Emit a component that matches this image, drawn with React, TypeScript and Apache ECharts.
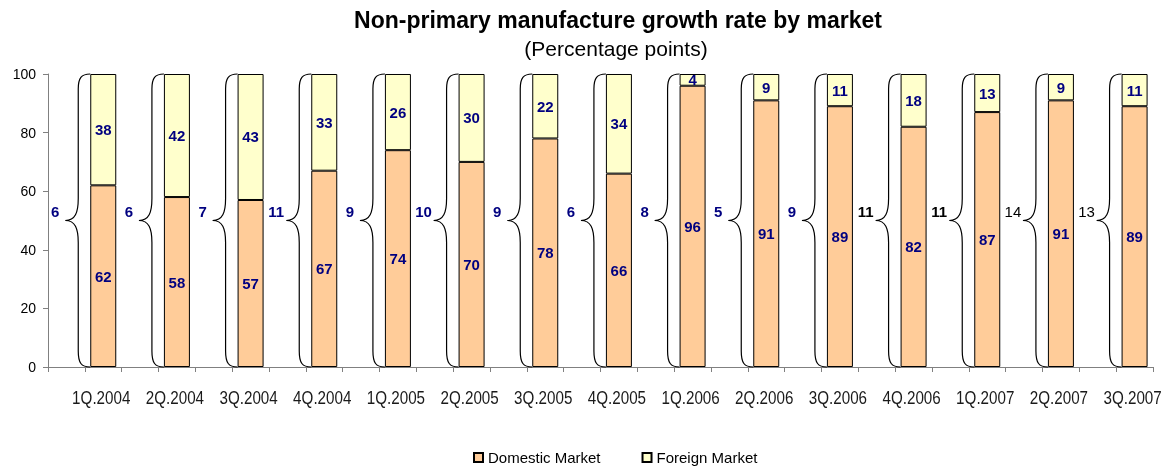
import React, { useEffect, useRef } from "react";
import * as echarts from "echarts";

const categories = [
  "1Q.2004", "2Q.2004", "3Q.2004", "4Q.2004",
  "1Q.2005", "2Q.2005", "3Q.2005", "4Q.2005",
  "1Q.2006", "2Q.2006", "3Q.2006", "4Q.2006",
  "1Q.2007", "2Q.2007", "3Q.2007",
];
const domestic = [62, 58, 57, 67, 74, 70, 78, 66, 96, 91, 89, 82, 87, 91, 89];
const foreign = [38, 42, 43, 33, 26, 30, 22, 34, 4, 9, 11, 18, 13, 9, 11];
const growth = [6, 6, 7, 11, 9, 10, 9, 6, 8, 5, 9, 11, 11, 14, 13];
const yMin = 0;
const yMax = 100;
const yInterval = 20;

// label look of each growth value (n = navy bold, b = black bold, p = black plain)
const growthLook = ["n", "n", "n", "n", "n", "n", "n", "n", "n", "n", "n", "b", "b", "p", "p"];

const FONT = "'Liberation Sans', Arial, Helvetica, sans-serif";

export default function App() {
  const ref = useRef<HTMLDivElement>(null);

  useEffect(() => {
    if (!ref.current) return;
    const chart = echarts.init(ref.current, undefined, { renderer: "svg" });

    const slots: string[] = [];
    categories.forEach((c, i) => {
      slots.push("_gap" + i);
      slots.push(c);
    });
    const domSlots: any[] = [];
    const forSlots: any[] = [];
    domestic.forEach((v, i) => {
      domSlots.push("-", v);
      forSlots.push("-", foreign[i]);
    });
    const braceData = growth.map((g, i) => [2 * i + 1, yMax, g, i]);
    const labelData = categories.map((c, i) => [2 * i + 1, yMin, i]);

    const barLabel = {
      show: true,
      position: "inside" as const,
      color: "#000080",
      fontWeight: "bold" as const,
      fontSize: 15,
      fontFamily: FONT,
    };

    chart.setOption({
      animation: false,
      title: [
        {
          text: "Non-primary manufacture growth rate by market",
          left: 618,
          top: 8,
          padding: 0,
          textAlign: "center",
          textStyle: { fontSize: 23, fontWeight: "bold", color: "#000", fontFamily: FONT },
        },
        {
          text: "(Percentage points)",
          left: 616,
          top: 38,
          padding: 0,
          textAlign: "center",
          textStyle: { fontSize: 21, fontWeight: "normal", color: "#000", fontFamily: FONT },
        },
      ],
      legend: {
        data: ["Domestic Market", "Foreign Market"],
        left: 473,
        top: 450,
        padding: 0,
        itemWidth: 9,
        itemHeight: 9,
        itemGap: 41,
        icon: "rect",
        textStyle: { fontSize: 15, color: "#000", fontFamily: FONT },
      },
      grid: { left: 48, right: 16, top: 74, bottom: 99, containLabel: false },
      xAxis: {
        type: "category",
        data: slots,
        axisLine: { lineStyle: { color: "#808080", width: 1 } },
        axisTick: { show: true, interval: 0, length: 5, lineStyle: { color: "#808080" } },
        axisLabel: { show: false },
        splitLine: { show: false },
      },
      yAxis: {
        type: "value",
        min: yMin,
        max: yMax,
        interval: yInterval,
        axisLine: { show: true, lineStyle: { color: "#808080", width: 1 } },
        axisTick: { show: true, length: 5, lineStyle: { color: "#808080" } },
        axisLabel: { margin: 12, fontSize: 14, color: "#000", fontFamily: FONT },
        splitLine: { show: false },
      },
      series: [
        {
          name: "Domestic Market",
          type: "bar",
          stack: "total",
          data: domSlots,
          barWidth: 26,
          itemStyle: { color: "#FFCC99", borderColor: "#000", borderWidth: 1 },
          label: barLabel,
        },
        {
          name: "Foreign Market",
          type: "bar",
          stack: "total",
          data: forSlots,
          barWidth: 26,
          itemStyle: { color: "#FFFFCC", borderColor: "#000", borderWidth: 1 },
          label: barLabel,
        },
        {
          name: "braces",
          type: "custom",
          data: braceData,
          encode: { x: 0, y: 1 },
          z: 5,
          renderItem: (params: any, api: any) => {
            const idx = api.value(0);
            const g = api.value(2);
            const k = growthLook[api.value(3)];
            const top = api.coord([idx, yMax]);
            const bot = api.coord([idx, yMin]);
            const mid = api.coord([idx, (yMin + yMax) / 2]);
            const lab = api.coord([idx, 53]);
            const xR = top[0] - 13;
            const xV = xR - 12;
            const xT = xR - 25;
            const yT = top[1];
            const yB = bot[1];
            const yM = mid[1];
            const d =
              `M${xR} ${yT} C${xV + 3} ${yT} ${xV} ${yT + 4} ${xV} ${yT + 15} ` +
              `L${xV} ${yM - 22} C${xV} ${yM - 8} ${xV - 3} ${yM} ${xT} ${yM} ` +
              `C${xV - 3} ${yM} ${xV} ${yM + 8} ${xV} ${yM + 22} ` +
              `L${xV} ${yB - 16} C${xV} ${yB - 4} ${xV + 3} ${yB} ${xR} ${yB}`;
            return {
              type: "group",
              children: [
                {
                  type: "path",
                  shape: { pathData: d },
                  style: { fill: "none", stroke: "#000", lineWidth: 1.2 },
                },
                {
                  type: "text",
                  style: {
                    text: String(g),
                    x: xR - 35,
                    y: lab[1],
                    align: "center",
                    verticalAlign: "middle",
                    fill: k === "n" ? "#000080" : "#000",
                    fontSize: 15,
                    fontWeight: k === "p" ? "normal" : "bold",
                    fontFamily: FONT,
                  },
                },
              ],
            };
          },
        },
        {
          name: "xlabels",
          type: "custom",
          data: labelData,
          encode: { x: 0, y: 1 },
          z: 5,
          renderItem: (params: any, api: any) => {
            const idx = api.value(0);
            const p = api.coord([idx, yMin]);
            return {
              type: "text",
              x: p[0] - 2,
              y: p[1] + 30,
              scaleX: 0.8,
              style: {
                text: categories[api.value(2)],
                x: 0,
                y: 0,
                align: "center",
                verticalAlign: "middle",
                fill: "#1a1a1a",
                fontSize: 19,
                fontFamily: FONT,
              },
            };
          },
        },
      ],
    });

    return () => chart.dispose();
  }, []);

  return (
    <div
      ref={ref}
      style={{ position: "fixed", left: 0, top: 0, width: 1169, height: 466 }}
    />
  );
}
